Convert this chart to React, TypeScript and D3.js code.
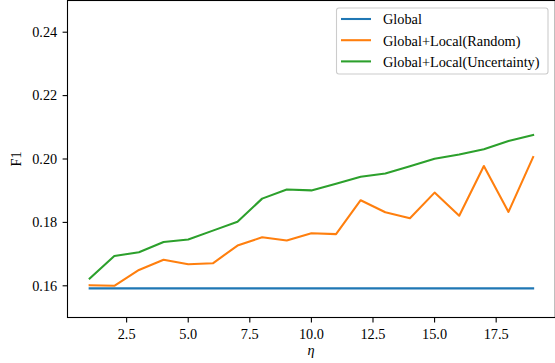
import React from "react";
import * as d3 from "d3";

const etas = [1, 2, 3, 4, 5, 6, 7, 8, 9, 10, 11, 12, 13, 14, 15, 16, 17, 18, 19];
const globalF1 = [0.1592, 0.1592, 0.1592, 0.1592, 0.1592, 0.1592, 0.1592, 0.1592, 0.1592, 0.1592, 0.1592, 0.1592, 0.1592, 0.1592, 0.1592, 0.1592, 0.1592, 0.1592, 0.1592];
const randomF1 = [0.1602, 0.1600, 0.1650, 0.1682, 0.1668, 0.1671, 0.1727, 0.1753, 0.1743, 0.1766, 0.1763, 0.1870, 0.1832, 0.1813, 0.1894, 0.1821, 0.1978, 0.1833, 0.2006];
const uncertaintyF1 = [0.1623, 0.1694, 0.1706, 0.1738, 0.1746, 0.1774, 0.1802, 0.1875, 0.1904, 0.1901, 0.1922, 0.1944, 0.1954, 0.1977, 0.2001, 0.2014, 0.2031, 0.2057, 0.2076];
const seriesNames = ["Global", "Global+Local(Random)", "Global+Local(Uncertainty)"];
const seriesColors = ["#1f77b4", "#ff7f0e", "#2ca02c"];
const xTicks = [2.5, 5.0, 7.5, 10.0, 12.5, 15.0, 17.5];
const yTicks = [0.16, 0.18, 0.2, 0.22, 0.24];

const W = 555;
const H = 363;
const left = 67.5;
const right = 555.3;
const top = 0.5;
const bottom = 317.5;
const FONT = '"Liberation Serif"';
const FS = 14.3;
const textStyle = { fontFamily: FONT, fontSize: FS };

export default function App() {
  const x = d3.scaleLinear().domain([0.1, 19.9]).range([left, right]);
  const y = d3.scaleLinear().domain([0.15, 0.25]).range([bottom, top]);
  const line = d3
    .line<number>()
    .x((_, i) => x(etas[i]))
    .y((d) => y(d));
  const all = [globalF1, randomF1, uncertaintyF1];

  return (
    <svg
      width={W}
      height={H}
      style={{ position: "absolute", left: 0, top: 0, background: "#fff" }}
    >
      <rect x={0} y={0} width={W} height={H} fill="#fff" />
      <defs>
        <clipPath id="plotclip">
          <rect x={left} y={top} width={right - left} height={bottom - top} />
        </clipPath>
      </defs>
      <g clipPath="url(#plotclip)">
        {all.map((s, i) => (
          <path
            key={i}
            d={line(s) || ""}
            fill="none"
            stroke={seriesColors[i]}
            strokeWidth={2.08}
            strokeLinejoin="round"
            strokeLinecap="square"
          />
        ))}
      </g>
      <rect
        x={left}
        y={top}
        width={right - left}
        height={bottom - top}
        fill="none"
        stroke="#000"
        strokeWidth={1.1}
      />
      {xTicks.map((t) => (
        <g key={t}>
          <line x1={x(t)} x2={x(t)} y1={bottom} y2={bottom + 4.9} stroke="#000" strokeWidth={1.1} />
          <text x={x(t)} y={339} style={textStyle} textAnchor="middle" fill="#000">
            {t.toFixed(1)}
          </text>
        </g>
      ))}
      {yTicks.map((t) => (
        <g key={t}>
          <line x1={left - 4.9} x2={left} y1={y(t)} y2={y(t)} stroke="#000" strokeWidth={1.1} />
          <text x={left - 10.3} y={y(t) + 4.8} style={textStyle} textAnchor="end" fill="#000">
            {t.toFixed(2)}
          </text>
        </g>
      ))}
      <text x={311} y={355} style={{ ...textStyle, fontStyle: "italic" }} textAnchor="middle" fill="#000">
        η
      </text>
      <text
        transform={`translate(20.5, ${(top + bottom) / 2}) rotate(-90)`}
        style={textStyle}
        textAnchor="middle"
        fill="#000"
      >
        F1
      </text>
      <g>
        <rect x={336.5} y={8} width={211.5} height={66} rx={2.5} fill="#fff" fillOpacity={0.8} stroke="#ccc" strokeWidth={1.1} />
        {seriesNames.map((n, i) => (
          <g key={n}>
            <line x1={341} x2={371} y1={19 + i * 21.2} y2={19 + i * 21.2} stroke={seriesColors[i]} strokeWidth={2.08} />
            <text x={383} y={19 + i * 21.2 + 5.3} style={textStyle} fill="#000">
              {n}
            </text>
          </g>
        ))}
      </g>
    </svg>
  );
}
